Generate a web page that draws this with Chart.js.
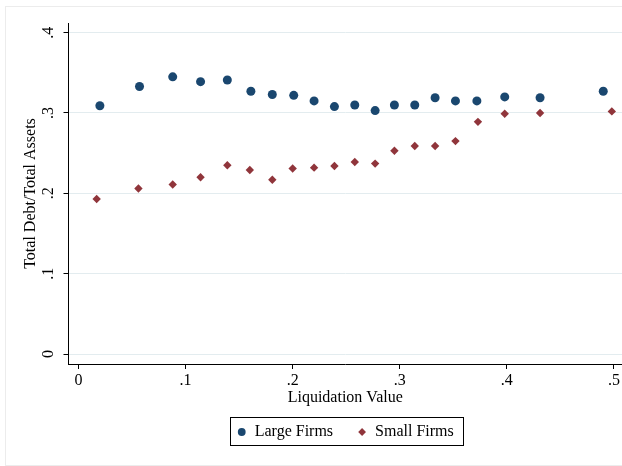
<!DOCTYPE html>
<html lang="en">
<head>
  <meta charset="UTF-8">
  <title>Leverage vs liquidation value</title>
  <script src="https://cdn.jsdelivr.net/npm/chart.js@4/dist/chart.umd.min.js"></script>
  <style>
    body { margin: 0; background: #fff; }
  </style>
</head>
<body>
<canvas id="cChart" width="622" height="466"></canvas>
<script>
// binned scatter: liquidation value vs debt ratio
const largeX = [0.020, 0.057, 0.088, 0.114, 0.139, 0.161, 0.181, 0.201, 0.220, 0.239, 0.258, 0.277, 0.295, 0.314, 0.333, 0.352, 0.372, 0.398, 0.431, 0.490];
const largeY = [0.309, 0.333, 0.345, 0.339, 0.341, 0.327, 0.323, 0.322, 0.315, 0.308, 0.310, 0.303, 0.310, 0.310, 0.319, 0.315, 0.315, 0.320, 0.319, 0.327];
const smallX = [0.017, 0.056, 0.088, 0.114, 0.139, 0.160, 0.181, 0.200, 0.220, 0.239, 0.258, 0.277, 0.295, 0.314, 0.333, 0.352, 0.373, 0.398, 0.431, 0.498];
const smallY = [0.193, 0.206, 0.211, 0.220, 0.235, 0.229, 0.217, 0.231, 0.232, 0.234, 0.239, 0.237, 0.253, 0.259, 0.259, 0.265, 0.289, 0.299, 0.300, 0.302];

const xTickVals = [0, 0.1, 0.2, 0.3, 0.4, 0.5];
const xTickLabels = ['0', '.1', '.2', '.3', '.4', '.5'];
const yTickVals = [0, 0.1, 0.2, 0.3, 0.4];
const yTickLabels = ['0', '.1', '.2', '.3', '.4'];

const serif = '"Liberation Serif", "Times New Roman", serif';
const navy = '#1a476f';
const maroon = '#90353b';

function pts(xs, ys) {
  return xs.map((x, i) => ({ x: x, y: ys[i] }));
}

// y tick labels are drawn turned, like Stata does
const yLabels = {
  id: 'yLabels',
  afterDraw(chart) {
    const s = chart.scales.y, ctx = chart.ctx;
    ctx.save();
    ctx.font = '16px ' + serif;
    ctx.fillStyle = '#000';
    ctx.textAlign = 'center';
    ctx.textBaseline = 'middle';
    s.ticks.forEach((t, i) => {
      const py = s.getPixelForValue(t.value);
      ctx.save();
      ctx.translate(s.right - 20, py);
      ctx.rotate(-Math.PI / 2);
      ctx.fillText(yTickLabels[i], 0, 0);
      ctx.restore();
    });
    ctx.restore();
  }
};

// box around the legend + faint outer frame
const frames = {
  id: 'frames',
  beforeDraw(chart) {
    const ctx = chart.ctx;
    ctx.save();
    ctx.strokeStyle = '#ececec';
    ctx.lineWidth = 1;
    ctx.strokeRect(5.5, 6.5, 700, 459);
    ctx.restore();
  },
  afterDraw(chart) {
    const boxes = chart.legend.legendHitBoxes;
    if (!boxes || !boxes.length) return;
    let l = Infinity, r = -Infinity, t = Infinity, b = -Infinity;
    boxes.forEach(h => {
      l = Math.min(l, h.left); r = Math.max(r, h.left + h.width);
      t = Math.min(t, h.top); b = Math.max(b, h.top + h.height);
    });
    const ctx = chart.ctx;
    ctx.save();
    ctx.strokeStyle = '#000';
    ctx.lineWidth = 1;
    const x0 = Math.round(l - 7) + 0.5, x1 = Math.round(r + 9) + 0.5;
    const y0 = Math.round(t - 7) + 0.5, y1 = Math.round(b + 5) + 0.5;
    ctx.strokeRect(x0, y0, x1 - x0, y1 - y0);
    ctx.restore();
  }
};

const config = {
  type: 'scatter',
  data: {
    datasets: [{
      label: 'Large Firms',
      data: pts(largeX, largeY),
      pointStyle: 'circle',
      pointRadius: 4.5,
      backgroundColor: navy,
      borderColor: navy,
      borderWidth: 0
    }, {
      label: 'Small Firms',
      data: pts(smallX, smallY),
      pointStyle: 'rectRot',
      pointRadius: 4.2,
      backgroundColor: maroon,
      borderColor: maroon,
      borderWidth: 0
    }]
  },
  options: {
    responsive: false,
    animation: false,
    events: [],
    layout: { autoPadding: false, padding: { top: 23, left: 0, right: 0, bottom: 16 } },
    plugins: {
      tooltip: { enabled: false },
      legend: {
        position: 'bottom',
        fullSize: false,
        labels: {
          usePointStyle: true,
          boxWidth: 10,
          boxHeight: 5.5,
          padding: 24,
          color: '#000',
          font: { family: serif, size: 16 }
        }
      }
    },
    scales: {
      x: {
        type: 'linear',
        min: -0.0093,
        max: 0.5075,
        afterBuildTicks: s => { s.ticks = xTickVals.map(v => ({ value: v })); },
        afterFit: s => { s.height = 36; s.paddingLeft = 0; s.paddingRight = 0; },
        ticks: {
          color: '#000',
          padding: 2,
          font: { family: serif, size: 16 },
          callback: (v, i) => xTickLabels[i]
        },
        grid: { drawOnChartArea: false, drawTicks: true, tickLength: 5, tickColor: '#000' },
        border: { display: true, color: '#000', width: 1 },
        title: {
          display: true,
          text: 'Liquidation Value',
          color: '#000',
          font: { family: serif, size: 16 },
          padding: { top: 0, bottom: -7 }
        }
      },
      y: {
        type: 'linear',
        min: -0.0124,
        max: 0.412,
        afterBuildTicks: s => { s.ticks = yTickVals.map(v => ({ value: v })); },
        afterFit: s => { s.width = 68.5; s.paddingTop = 0; s.paddingBottom = 0; },
        ticks: { display: false },
        grid: { color: '#e3ecef', lineWidth: 1, drawTicks: true, tickLength: 5, tickColor: '#000' },
        border: { display: true, color: '#000', width: 1 },
        title: {
          display: true,
          text: 'Total Debt/Total Assets',
          color: '#000',
          font: { family: serif, size: 16 },
          padding: { top: 21, bottom: 0 }
        }
      }
    }
  },
  plugins: [yLabels, frames]
};

const cChart = new Chart(document.getElementById('cChart'), config);
</script>
</body>
</html>
